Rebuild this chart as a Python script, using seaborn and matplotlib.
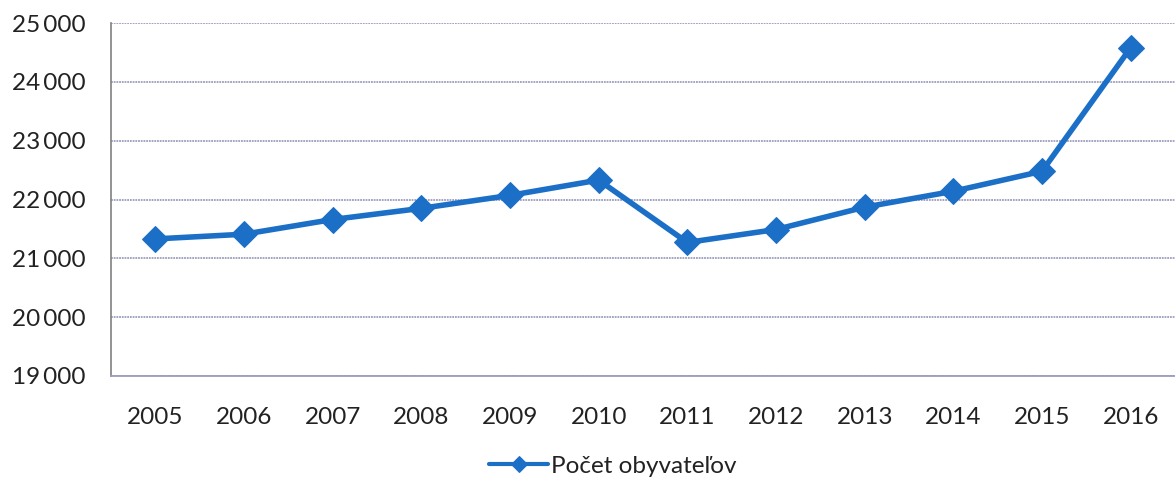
import matplotlib
matplotlib.use("Agg")
import matplotlib.pyplot as plt
import matplotlib.ticker as mticker
import numpy as np
import pandas as pd
import seaborn as sns

# Data
years = ["2005", "2006", "2007", "2008", "2009", "2010",
         "2011", "2012", "2013", "2014", "2015", "2016"]
population = [21330, 21410, 21660, 21850, 22070, 22330,
              21270, 21490, 21870, 22140, 22480, 24580]
series_name = "Počet obyvateľov"
y_ticks = [19000, 20000, 21000, 22000, 23000, 24000, 25000]

line_color = "#1c6fc6"
grid_color = "#9c9cbf"

sns.set_style("white")
plt.rcParams["font.family"] = ["Lato", "DejaVu Sans"]

df = pd.DataFrame({"year": years, "value": population, "series": series_name})

fig = plt.figure(figsize=(11.75, 4.8), dpi=100)
ax = fig.add_axes([111 / 1175, 1 - 376 / 480, (1175 - 111) / 1175, (376 - 23) / 480])

sns.lineplot(data=df, x="year", y="value", hue="series", palette=[line_color],
             marker="D", markersize=13, markeredgecolor=line_color, linewidth=4,
             sort=False, ax=ax)

ax.set_xlim(-0.5, len(years) - 0.5)
ax.set_ylim(y_ticks[0], y_ticks[-1])
ax.set_yticks(y_ticks)
ax.yaxis.set_major_formatter(mticker.FuncFormatter(lambda v, _: f"{int(v):,}".replace(",", "\u2009")))
ax.grid(axis="y", color=grid_color, linewidth=1.3, linestyle=(0, (1, 0.5)))
ax.set_axisbelow(True)

for side in ["top", "right"]:
    ax.spines[side].set_visible(False)
ax.spines["left"].set_color("#808080")
ax.spines["left"].set_linewidth(1.2)
ax.spines["bottom"].set_color(grid_color)
ax.spines["bottom"].set_linewidth(1.3)

ax.tick_params(axis="y", length=8, color=grid_color, width=1.2, labelsize=17.5, pad=10, labelcolor="#222222")
ax.tick_params(axis="x", which="major", length=0, labelsize=17.5, pad=22, labelcolor="#222222")
ax.set_xticks(np.arange(-0.5, len(years) + 0.5), minor=True)
ax.tick_params(axis="x", which="minor", length=6, color="#808080", width=1.2)

ax.set_xlabel("")
ax.set_ylabel("")

handles, labels = ax.get_legend_handles_labels()
for h in handles:
    h.set_linewidth(3)
ax.legend(handles, labels, loc="center", bbox_to_anchor=(0.472, -0.255), frameon=False,
          fontsize=17.5, handlelength=2.4, handletextpad=0.15, markerscale=0.6,
          labelcolor="#222222")

fig.savefig("out.png", dpi=100)
